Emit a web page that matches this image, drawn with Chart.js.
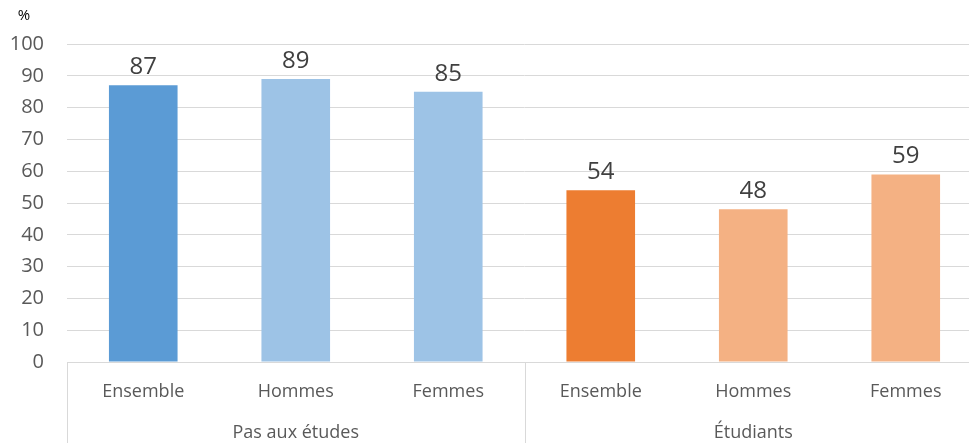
<!DOCTYPE html>
<html>
<head>
<meta charset="utf-8">
<script src="https://cdn.jsdelivr.net/npm/chart.js@4"></script>
<style>
    html, body { margin: 0; padding: 0; overflow: hidden; background: #fff; }
    #wrap { width: 982px; height: 443px; position: relative; }
</style>
</head>
<body>
<div id="wrap"><canvas id="chart"></canvas></div>
<script>
// data
const categories = ['Ensemble', 'Hommes', 'Femmes', 'Ensemble', 'Hommes', 'Femmes'];
const groups = ['Pas aux études', 'Étudiants'];
const values = [87, 89, 85, 54, 48, 59];
const barColors = ['#5B9BD5', '#9DC3E6', '#9DC3E6', '#ED7D31', '#F4B183', '#F4B183'];
const yTicks = [0, 10, 20, 30, 40, 50, 60, 70, 80, 90, 100];

const FONT = "'Open Sans', 'Noto Sans', sans-serif";

// value labels above the bars
const valueLabels = {
    id: 'valueLabels',
    afterDatasetsDraw(chart) {
        const ctx = chart.ctx;
        const meta = chart.getDatasetMeta(0);
        ctx.save();
        ctx.font = '24px ' + FONT;
        ctx.fillStyle = '#404040';
        ctx.textAlign = 'center';
        ctx.textBaseline = 'alphabetic';
        meta.data.forEach((bar, i) => {
            ctx.fillText(String(values[i]), bar.x, bar.y - 11);
        });
        ctx.restore();
    }
};

// vertical separators under the axis + the "%" unit
const groupLines = {
    id: 'groupLines',
    afterDraw(chart) {
        const ctx = chart.ctx;
        const x = chart.scales.x;
        const y = chart.scales.y;
        const mid = (x.getPixelForTick(2) + x.getPixelForTick(3)) / 2;
        ctx.save();
        ctx.strokeStyle = '#d9d9d9';
        ctx.lineWidth = 1;
        [x.left, mid, x.right].forEach(px => {
            const p = Math.round(px) + 0.5;
            ctx.beginPath();
            ctx.moveTo(p, chart.chartArea.bottom);
            ctx.lineTo(p, chart.height);
            ctx.stroke();
        });
        ctx.font = '15px ' + FONT;
        ctx.fillStyle = '#000';
        ctx.textAlign = 'center';
        ctx.textBaseline = 'middle';
        ctx.fillText('%', y.left + 24, 16);
        ctx.restore();
    }
};

new Chart(document.getElementById('chart'), {
    type: 'bar',
    data: {
        labels: categories,
        datasets: [{
            data: values,
            backgroundColor: barColors,
            borderWidth: 0,
            categoryPercentage: 1,
            barPercentage: 0.45
        }]
    },
    options: {
        responsive: true,
        maintainAspectRatio: false,
        animation: false,
        layout: { padding: { top: 44, left: 0, right: 0, bottom: 0 } },
        plugins: {
            legend: { display: false },
            tooltip: { enabled: false }
        },
        scales: {
            x: {
                grid: { display: false },
                border: { display: true, color: '#d9d9d9' },
                ticks: { font: { family: FONT, size: 18 }, color: '#595959', padding: 11, maxRotation: 0 },
                afterFit(scale) { scale.height = 50; }
            },
            x2: {
                type: 'category',
                labels: groups,
                position: 'bottom',
                offset: true,
                grid: { display: false },
                border: { display: false },
                ticks: { font: { family: FONT, size: 18 }, color: '#595959', padding: 2, maxRotation: 0 },
                afterFit(scale) { scale.height = 31; }
            },
            y: {
                min: 0,
                max: 100,
                afterBuildTicks(scale) { scale.ticks = yTicks.map(v => ({ value: v })); },
                grid: { color: '#d9d9d9', drawTicks: false },
                border: { display: false },
                ticks: { font: { family: FONT, size: 20 }, color: '#595959', padding: 23 },
                afterFit(scale) { scale.width = 67; }
            }
        }
    },
    plugins: [valueLabels, groupLines]
});
</script>
</body>
</html>
